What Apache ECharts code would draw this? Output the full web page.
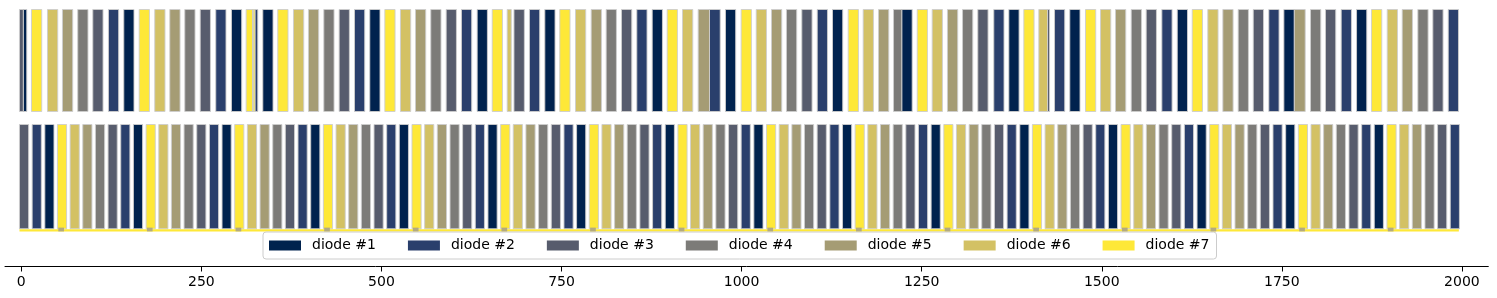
<!DOCTYPE html>
<html><head><meta charset="utf-8">
<script src="https://cdn.jsdelivr.net/npm/echarts@6/dist/echarts.min.js"></script>
<style>html,body{margin:0;padding:0;background:#fff;}#c{width:1497px;height:298px;}</style>
</head><body><div id="c"></div>
<script>
// ---------- data ----------
const diodeNames = ['diode #1','diode #2','diode #3','diode #4','diode #5','diode #6','diode #7'];
const tickValues = [0, 250, 500, 750, 1000, 1250, 1500, 1750, 2000];

// upper row: pulse start, duration, diode number
const topStart = [-2.5, 2.8, 14.2, 36.4, 57.2, 78.4, 99.3, 121.0, 142.3, 163.7, 185.3, 206.2, 227.0, 248.4, 270.0, 291.8,
  312.2, 321.0, 322.1, 324.4, 335.3, 356.1, 377.9, 398.7, 420.0, 441.3, 462.6, 483.8, 504.7, 526.4, 547.3, 568.5,
  589.9, 611.1, 632.9, 653.8, 674.6, 684.0, 705.5, 726.8, 747.6, 769.4, 791.2, 812.0, 833.3, 854.5, 875.9, 896.7,
  918.0, 939.7, 955.4, 977.6, 999.4, 1020.3, 1041.5, 1062.3, 1083.6, 1105.0, 1126.2, 1148.0, 1168.8, 1190.1, 1210.9,
  1222.3, 1243.8, 1264.6, 1285.8, 1306.7, 1327.9, 1350.1, 1371.0, 1391.8, 1412.6, 1424.7, 1434.4, 1455.6, 1477.4,
  1498.3, 1519.1, 1540.9, 1561.7, 1583.4, 1604.8, 1625.6, 1647.2, 1668.1, 1689.4, 1710.3, 1731.9, 1752.8, 1767.3,
  1789.8, 1810.6, 1832.4, 1853.7, 1874.5, 1896.3, 1917.1, 1938.8, 1959.6, 1981.0];
const topDur = [5.3, 4.8, 14.2, 14.2, 14.2, 14.2, 14.2, 14.2, 14.2, 14.2, 14.2, 14.2, 14.2, 14.2, 14.2, 14.2,
  8.8, 1.1, 2.3, 3.9, 14.2, 14.2, 14.2, 14.2, 14.2, 14.2, 14.2, 14.2, 14.2, 14.2, 14.2, 14.2,
  14.2, 14.2, 14.2, 14.2, 5.6, 14.4, 14.2, 14.2, 14.2, 14.2, 14.2, 14.2, 14.2, 14.2, 14.2, 14.2,
  14.2, 15.7, 14.9, 14.2, 14.2, 14.2, 14.2, 14.2, 14.2, 14.2, 14.2, 14.2, 14.2, 14.2, 11.4,
  14.5, 14.2, 14.2, 14.2, 14.2, 14.2, 14.2, 14.2, 14.2, 12.1, 2.8, 14.2, 14.2, 14.2,
  14.2, 14.2, 14.2, 14.2, 14.2, 14.2, 14.2, 14.2, 14.2, 14.2, 14.2, 14.2, 14.5, 15.1,
  14.2, 14.2, 14.2, 14.2, 14.2, 14.2, 14.2, 14.2, 14.2, 14.2];
const topDiode = [3, 1, 7, 6, 5, 4, 3, 2, 1, 7, 6, 5, 4, 3, 2, 1,
  7, 4, 7, 2, 1, 7, 6, 5, 4, 3, 2, 1, 7, 6, 5, 4,
  3, 2, 1, 7, 6, 3, 2, 1, 7, 6, 5, 4, 3, 2, 1, 7,
  6, 5, 2, 1, 7, 6, 5, 4, 3, 2, 1, 7, 6, 5, 4,
  1, 7, 6, 5, 4, 3, 2, 1, 7, 6, 3, 2, 1, 7,
  6, 5, 4, 3, 2, 1, 7, 6, 5, 4, 3, 2, 1, 5,
  4, 3, 2, 1, 7, 6, 5, 4, 3, 2];

// lower row: pulse start, duration, diode number
const bottomStart = [-2.5, 15.1, 32.7, 50.2, 67.8, 85.4, 103.0, 120.5, 138.1, 155.7, 173.3, 190.9, 208.4, 226.0,
  243.6, 261.2, 278.7, 296.3, 313.9, 331.5, 349.1, 366.6, 384.2, 401.8, 419.4, 437.0, 454.5, 472.1,
  489.7, 507.3, 524.8, 542.4, 560.0, 577.6, 595.2, 612.7, 630.3, 647.9, 665.5, 683.0, 700.6, 718.2,
  735.8, 753.4, 770.9, 788.5, 806.1, 823.7, 841.2, 858.8, 876.4, 894.0, 911.6, 929.1, 946.7, 964.3,
  981.9, 999.4, 1017.0, 1034.6, 1052.2, 1069.8, 1087.3, 1104.9, 1122.5, 1140.1, 1157.6, 1175.2, 1192.8, 1210.4,
  1228.0, 1245.5, 1263.1, 1280.7, 1298.3, 1315.9, 1333.4, 1351.0, 1368.6, 1386.2, 1403.7, 1421.3, 1438.9, 1456.5,
  1474.1, 1491.6, 1509.2, 1526.8, 1544.4, 1561.9, 1579.5, 1597.1, 1614.7, 1632.3, 1649.8, 1667.4, 1685.0, 1702.6,
  1720.1, 1737.7, 1755.3, 1772.9, 1790.5, 1808.0, 1825.6, 1843.2, 1860.8, 1878.3, 1895.9, 1913.5, 1931.1, 1948.7,
  1966.2, 1983.8];
const bottomDur = [12.7, 12.7, 12.7, 12.7, 12.7, 12.7, 12.7, 12.7, 12.7, 12.7, 12.7, 12.7, 12.7, 12.7,
  12.7, 12.7, 12.7, 12.7, 12.7, 12.7, 12.7, 12.7, 12.7, 12.7, 12.7, 12.7, 12.7, 12.7,
  12.7, 12.7, 12.7, 12.7, 12.7, 12.7, 12.7, 12.7, 12.7, 12.7, 12.7, 12.7, 12.7, 12.7,
  12.7, 12.7, 12.7, 12.7, 12.7, 12.7, 12.7, 12.7, 12.7, 12.7, 12.7, 12.7, 12.7, 12.7,
  12.7, 12.7, 12.7, 12.7, 12.7, 12.7, 12.7, 12.7, 12.7, 12.7, 12.7, 12.7, 12.7, 12.7,
  12.7, 12.7, 12.7, 12.7, 12.7, 12.7, 12.7, 12.7, 12.7, 12.7, 12.7, 12.7, 12.7, 12.7,
  12.7, 12.7, 12.7, 12.7, 12.7, 12.7, 12.7, 12.7, 12.7, 12.7, 12.7, 12.7, 12.7, 12.7,
  12.7, 12.7, 12.7, 12.7, 12.7, 12.7, 12.7, 12.7, 12.7, 12.7, 12.7, 12.7, 12.7, 12.7,
  12.7, 12.7];
const bottomDiode = [3, 2, 1, 7, 6, 5, 4, 3, 2, 1, 7, 6, 5, 4,
  3, 2, 1, 7, 6, 5, 4, 3, 2, 1, 7, 6, 5, 4,
  3, 2, 1, 7, 6, 5, 4, 3, 2, 1, 7, 6, 5, 4,
  3, 2, 1, 7, 6, 5, 4, 3, 2, 1, 7, 6, 5, 4,
  3, 2, 1, 7, 6, 5, 4, 3, 2, 1, 7, 6, 5, 4,
  3, 2, 1, 7, 6, 5, 4, 3, 2, 1, 7, 6, 5, 4,
  3, 2, 1, 7, 6, 5, 4, 3, 2, 1, 7, 6, 5, 4,
  3, 2, 1, 7, 6, 5, 4, 3, 2, 1, 7, 6, 5, 4,
  3, 2];

// thin baseline strip under the lower row and its small notches
const baseStart = [-2.5];
const baseDur = [1998.2];
const notchStart = [51.4, 174.4, 297.5, 420.5, 543.6, 666.6, 789.7, 912.7, 1035.8, 1158.8, 1281.9, 1404.9, 1528.0, 1651.0, 1774.1, 1897.1];
const notchDur = [7.9, 7.9, 7.9, 7.9, 7.9, 7.9, 7.9, 7.9, 7.9, 7.9, 7.9, 7.9, 7.9, 7.9, 7.9, 7.9];

// ---------- styling / layout ----------
const COLORS = ['#00224e', '#2a3f6c', '#575c6d', '#7c7b78', '#a59c74', '#d3c164', '#fee838'];
const BANDS = [[9.5, 111.5], [124.5, 228.8], [229.2, 231.4], [227.6, 231.4]];
const FONT = 'DejaVu Sans';

function render(stroke) {
  return function (params, api) {
    const s = api.value(0), e = api.value(1), r = api.value(2);
    const band = BANDS[r];
    const a = api.coord([s, band[0]]);
    const b = api.coord([e, band[1]]);
    return {
      type: 'rect',
      shape: { x: a[0], y: a[1], width: b[0] - a[0], height: b[1] - a[1] },
      style: stroke ? { fill: api.visual('color'), stroke: 'rgba(205,205,205,0.9)', lineWidth: 1 }
                    : { fill: api.visual('color') }
    };
  };
}

const series = [];
for (let d = 1; d <= 7; d++) {
  const data = [];
  topStart.forEach((s, i) => { if (topDiode[i] === d) data.push([s, s + topDur[i], 0]); });
  bottomStart.forEach((s, i) => { if (bottomDiode[i] === d) data.push([s, s + bottomDur[i], 1]); });
  series.push({
    type: 'custom', name: diodeNames[d - 1], renderItem: render(true),
    itemStyle: { color: COLORS[d - 1] }, encode: { x: [0, 1], y: 2 }, data: data, z: 2, silent: true
  });
}
series.push({
  type: 'custom', name: 'base', renderItem: render(false), itemStyle: { color: COLORS[6] },
  encode: { x: [0, 1], y: 2 }, data: baseStart.map((s, i) => [s, s + baseDur[i], 2]), z: 3, silent: true
});
series.push({
  type: 'custom', name: 'notch', renderItem: render(false), itemStyle: { color: '#b3aa80' },
  encode: { x: [0, 1], y: 2 }, data: notchStart.map((s, i) => [s, s + notchDur[i], 3]), z: 4, silent: true
});

const chart = echarts.init(document.getElementById('c'), null, { renderer: 'canvas' });
chart.setOption({
  animation: false,
  backgroundColor: '#ffffff',
  grid: { left: 5, right: 8.7, top: 0, bottom: 31.5, containLabel: false },
  xAxis: {
    type: 'value', min: -22.6, max: 2036.6, position: 'bottom',
    axisLine: { show: true, onZero: false, lineStyle: { color: '#000', width: 1 } },
    axisTick: { show: true, inside: false, customValues: tickValues, length: 5, lineStyle: { color: '#000', width: 1 } },
    axisLabel: { customValues: tickValues, fontFamily: FONT, fontSize: 14, color: '#000', margin: 9,
                 formatter: function (v) { return String(v); } },
    splitLine: { show: false }
  },
  yAxis: { type: 'value', min: 0, max: 266.5, inverse: true, show: false },
  legend: {
    data: diodeNames, left: 263, top: 232, orient: 'horizontal', icon: 'rect',
    itemWidth: 32, itemHeight: 10, itemGap: 32, padding: [6.5, 7, 6.5, 6],
    borderColor: '#cccccc', borderWidth: 1, borderRadius: 3, backgroundColor: 'rgba(255,255,255,0.8)',
    selectedMode: false,
    textStyle: { fontFamily: FONT, fontSize: 14, color: '#000', padding: [0, 0, 0, 6] }
  },
  series: series
});
</script>
</body></html>
